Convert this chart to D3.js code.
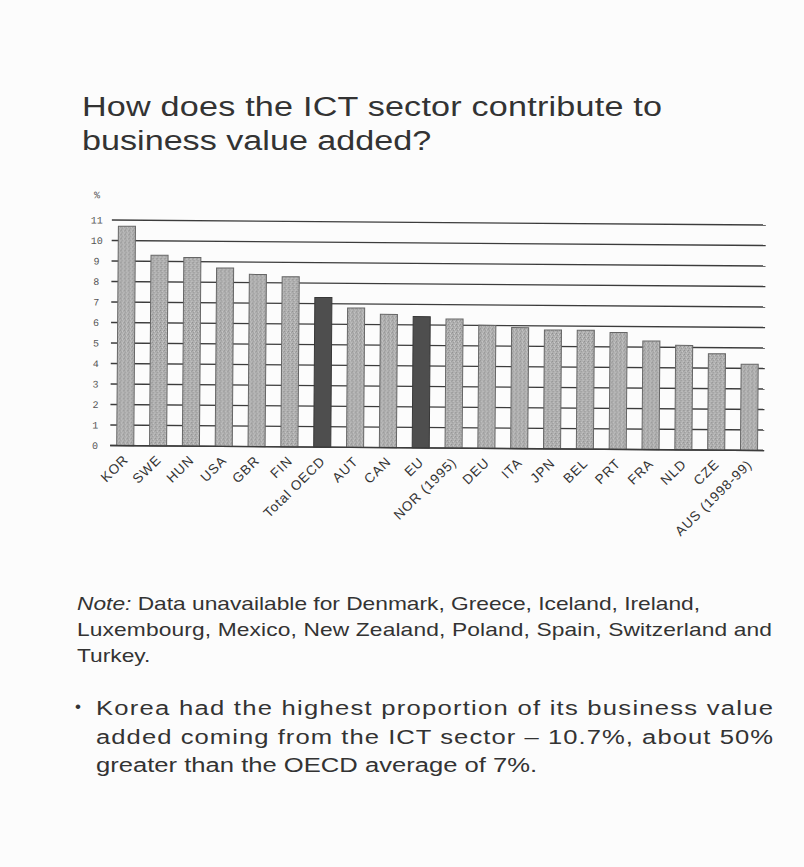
<!DOCTYPE html>
<html>
<head>
<meta charset="utf-8">
<script src="https://cdn.jsdelivr.net/npm/d3@7"></script>
<style>
  html, body { margin: 0; padding: 0; background: #fcfcfc; }
  svg { display: block; }
</style>
</head>
<body>
<script>
// ICT sector share of business value added, per cent
const categories = ["KOR", "SWE", "HUN", "USA", "GBR", "FIN", "Total OECD", "AUT", "CAN", "EU",
  "NOR (1995)", "DEU", "ITA", "JPN", "BEL", "PRT", "FRA", "NLD", "CZE", "AUS (1998-99)"];
const values = [10.7, 9.3, 9.2, 8.7, 8.4, 8.3, 7.3, 6.8, 6.5, 6.4,
  6.3, 6.0, 5.9, 5.8, 5.8, 5.7, 5.3, 5.1, 4.7, 4.2];
const aggregates = ["Total OECD", "EU"];
const yTicks = [0, 1, 2, 3, 4, 5, 6, 7, 8, 9, 10, 11];
const yUnit = "%";

const titleLines = ["How does the ICT sector contribute to", "business value added?"];
const noteLabel = "Note:";
const noteLines = [
  "Data unavailable for Denmark, Greece, Iceland, Ireland,",
  "Luxembourg, Mexico, New Zealand, Poland, Spain, Switzerland and",
  "Turkey."
];
const bulletLines = [
  "Korea had the highest proportion of its business value",
  "added coming from the ICT sector \u2013 10.7%, about 50%",
  "greater than the OECD average of 7%."
];

const W = 804, H = 867;
const svg = d3.select("body").append("svg").attr("width", W).attr("height", H);
svg.append("rect").attr("width", W).attr("height", H).attr("fill", "#fcfcfc");

// stippled grey fill for the country bars
const defs = svg.append("defs");
const pat = defs.append("pattern").attr("id", "stipple")
  .attr("patternUnits", "userSpaceOnUse").attr("width", 4).attr("height", 4);
pat.append("rect").attr("width", 4).attr("height", 4).attr("fill", "#b0b0b0");
[[0, 0, "#8a8a8a"], [2, 1, "#d0d0d0"], [1, 2, "#969696"], [3, 3, "#c4c4c4"], [3, 1, "#9c9c9c"]]
  .forEach(([x, y, c]) => pat.append("rect").attr("x", x).attr("y", y)
    .attr("width", 1).attr("height", 1).attr("fill", c));

const font = "'Liberation Sans', Arial, Helvetica, sans-serif";
const textColor = "#333";

// Body text is set a little wide; each line is scaled horizontally by sx and,
// where a justified width is given, spread to that width.
function textLine(g, str, x, y, size, sx, width) {
  const t = g.append("text")
    .attr("transform", `translate(${x},${y}) scale(${sx},1)`)
    .attr("font-size", size)
    .text(str);
  if (width) t.attr("textLength", width / sx).attr("lengthAdjust", "spacing");
  return t;
}

// Title
const title = svg.append("g").attr("font-family", font).attr("fill", textColor);
textLine(title, titleLines[0], 82, 115.5, 28, 1.22, 580);
textLine(title, titleLines[1], 82, 150, 28, 1.22);

// Chart (slightly tilted, as on the printed page)
const chart = svg.append("g").attr("transform", "rotate(0.44, 438, 335)");

const x = d3.scaleBand().domain(categories).range([111, 765])
  .paddingInner(0.48).paddingOuter(0.2);
const y = d3.scaleLinear().domain([0, 11]).range([448, 222.5]);

// horizontal grid lines
chart.append("g").selectAll("line").data(yTicks).join("line")
  .attr("x1", 111).attr("x2", 765)
  .attr("y1", d => y(d)).attr("y2", d => y(d))
  .attr("stroke", "#3c3c3c").attr("stroke-width", 1.3);

// y tick labels
const yAxis = d3.axisLeft(y).tickValues(yTicks).tickSize(0).tickPadding(0);
const gy = chart.append("g").attr("transform", "translate(101,0)").call(yAxis);
gy.select(".domain").remove();
gy.selectAll("text")
  .attr("text-anchor", "middle").attr("x", -5)
  .attr("font-family", "'Liberation Mono', 'DejaVu Sans Mono', monospace")
  .attr("font-size", 10).attr("fill", "#555");
chart.append("text").attr("x", 96).attr("y", 201).attr("text-anchor", "middle")
  .attr("font-family", "'Liberation Mono', monospace").attr("font-size", 10).attr("fill", "#555")
  .text(yUnit);

// bars
chart.append("g").selectAll("rect").data(categories).join("rect")
  .attr("x", d => x(d))
  .attr("width", x.bandwidth())
  .attr("y", (d, i) => y(values[i]))
  .attr("height", (d, i) => y(0) - y(values[i]))
  .attr("fill", d => aggregates.includes(d) ? "#4e4e4e" : "url(#stipple)")
  .attr("stroke", d => aggregates.includes(d) ? "#383838" : "#666")
  .attr("stroke-width", 1);

// baseline over the bar feet
chart.append("line").attr("x1", 111).attr("x2", 765)
  .attr("y1", y(0)).attr("y2", y(0)).attr("stroke", "#3c3c3c").attr("stroke-width", 1.4);

// category labels
const xAxis = d3.axisBottom(x).tickSize(0).tickPadding(0);
const gx = chart.append("g").attr("transform", `translate(0,${y(0)})`).call(xAxis);
gx.select(".domain").remove();
gx.selectAll("text")
  .attr("text-anchor", "end")
  .attr("dy", 0).attr("y", 0)
  .attr("transform", "translate(4,15) rotate(-45)")
  .attr("font-family", font).attr("font-size", 13.5)
  .attr("letter-spacing", 0.9).attr("fill", textColor);

// Note
const note = svg.append("g").attr("font-family", font).attr("fill", textColor);
const first = textLine(note, "", 77, 610, 18.5, 1.23);
first.append("tspan").attr("font-style", "italic").text(noteLabel + " ");
first.append("tspan").text(noteLines[0]);
textLine(note, noteLines[1], 77, 636, 18.5, 1.23, 695);
textLine(note, noteLines[2], 77, 662, 18.5, 1.23);

// Bullet point
const bullet = svg.append("g").attr("font-family", font).attr("fill", textColor);
bullet.append("text").attr("x", 75).attr("y", 712).attr("font-size", 17).text("\u2022");
textLine(bullet, bulletLines[0], 96, 715, 21, 1.22, 677);
textLine(bullet, bulletLines[1], 96, 743.5, 21, 1.22, 677);
textLine(bullet, bulletLines[2], 96, 772, 21, 1.22);
</script>
</body>
</html>
